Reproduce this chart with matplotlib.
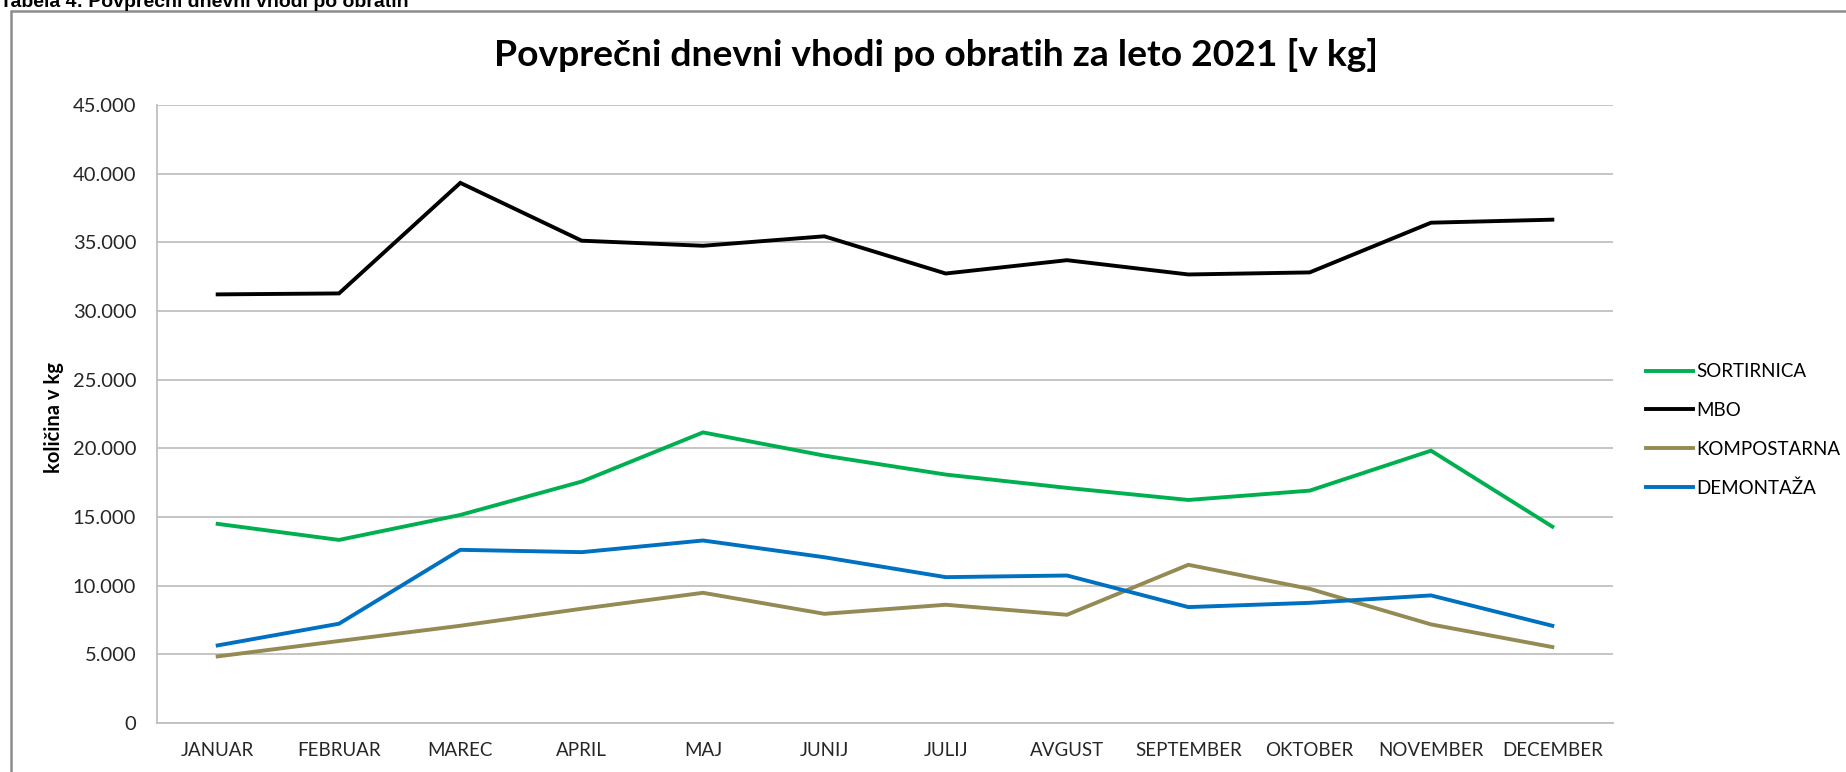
import matplotlib
matplotlib.use('Agg')
from matplotlib import pyplot as plt
from matplotlib.patches import Rectangle
from matplotlib.ticker import FuncFormatter

plt.rcParams['font.family'] = ['Lato', 'DejaVu Sans']

months = ['JANUAR', 'FEBRUAR', 'MAREC', 'APRIL', 'MAJ', 'JUNIJ', 'JULIJ',
          'AVGUST', 'SEPTEMBER', 'OKTOBER', 'NOVEMBER', 'DECEMBER']

sortirnica = [14500, 13330, 15150, 17580, 21160, 19470, 18090, 17120, 16240, 16920, 19830, 14300]
mbo = [31210, 31280, 39330, 35120, 34750, 35440, 32730, 33700, 32660, 32810, 36430, 36650]
kompostarna = [4850, 5970, 7080, 8320, 9480, 7950, 8610, 7880, 11520, 9770, 7180, 5530]
demontaza = [5650, 7230, 12610, 12440, 13290, 12070, 10620, 10740, 8440, 8750, 9290, 7080]

series = [('SORTIRNICA', sortirnica, '#00B050'),
          ('MBO', mbo, '#000000'),
          ('KOMPOSTARNA', kompostarna, '#948A54'),
          ('DEMONTAŽA', demontaza, '#0070C0')]

W, H = 1846, 772
fig = plt.figure(figsize=(W / 100, H / 100), dpi=100)

# outer chart frame (cut by the page edge on right and bottom)
fig.patches.append(Rectangle((11 / W, -0.1), 1.2, 1.1 - 11 / H, transform=fig.transFigure,
                             fill=False, edgecolor='#8C8C8C', linewidth=1.8))
fig.text(0.0, 1 - 7 / H, 'Tabela 4: Povprečni dnevni vhodi po obratih',
         fontsize=14, fontweight='bold', family=['Liberation Sans', 'DejaVu Sans'],
         ha='left', va='baseline')

ax = fig.add_axes([157 / W, (H - 723) / H, (1613 - 157) / W, (723 - 105) / H])

x = list(range(len(months)))
for name, vals, col in series:
    ax.plot(x, vals, color=col, linewidth=2.8, label=name, solid_joinstyle='miter')

ax.set_xlim(-0.5, len(months) - 0.5)
ax.set_ylim(0, 45000)
ax.set_yticks(range(0, 45001, 5000))
ax.yaxis.set_major_formatter(FuncFormatter(lambda v, p: f'{int(v):,}'.replace(',', '.')))
ax.set_xticks(x)
ax.set_xticklabels(months)
ax.tick_params(length=0, colors='#262626')
ax.tick_params(axis='y', pad=15, labelsize=14.5)
ax.tick_params(axis='x', pad=14, labelsize=13.5)

ax.grid(axis='y', color='#C0C0C0', linewidth=1.3)
ax.set_axisbelow(True)
for s in ['top', 'right']:
    ax.spines[s].set_visible(False)
for s in ['left', 'bottom']:
    ax.spines[s].set_color('#BFBFBF')
    ax.spines[s].set_linewidth(1.3)

ax.set_ylabel('količina v kg', fontsize=14.5, fontweight='bold')
ax.yaxis.set_label_coords(64 / W, (H - 418) / H, transform=fig.transFigure)

fig.text(936 / W, 1 - 55 / H, 'Povprečni dnevni vhodi po obratih za leto 2021 [v kg]',
         fontsize=26.8, fontweight='bold', ha='center', va='center')

fig.legend(loc='center left', bbox_to_anchor=(1646 / W, (H - 430) / H), frameon=False,
           fontsize=13.5, handlelength=2.5, handletextpad=0.2, labelspacing=1.15,
           borderpad=0, borderaxespad=0)

fig.savefig('out.png', dpi=100)
